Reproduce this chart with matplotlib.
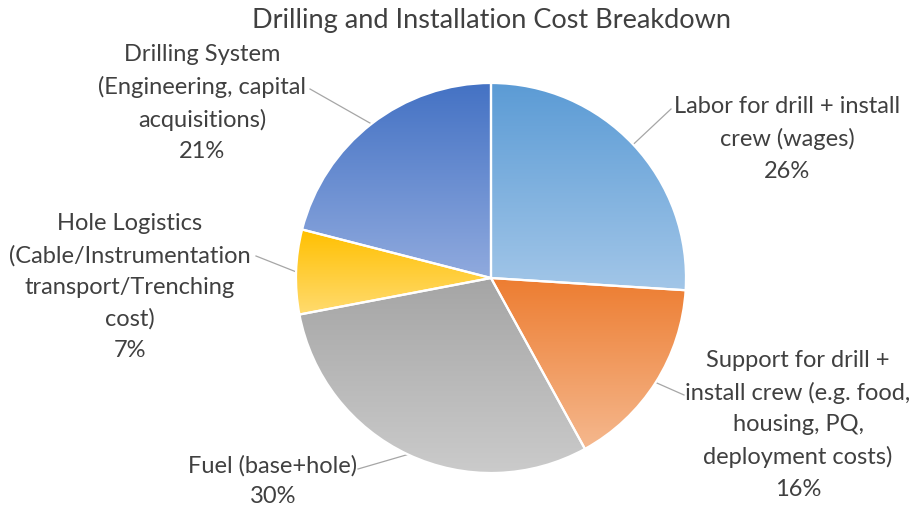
import matplotlib.pyplot as plt
import numpy as np
from matplotlib.colors import LinearSegmentedColormap

# cost shares, clockwise from 12 o'clock
labels = ['Labor for drill + install\ncrew (wages)',
          'Support for drill +\ninstall crew (e.g. food,\nhousing, PQ,\ndeployment costs)',
          'Fuel (base+hole)',
          'Hole Logistics\n(Cable/Instrumentation\ntransport/Trenching\ncost)',
          'Drilling System\n(Engineering, capital\nacquisitions)']
shares = [26, 16, 30, 7, 21]

# gradient top -> bottom for each slice
top_colors = ['#5B9BD5', '#ED7D31', '#A5A5A5', '#FFC000', '#4472C4']
bottom_colors = ['#A2C6E8', '#F5B88E', '#CBCBCB', '#FFDB70', '#90AADE']

# label block centre (px) and leader end point (px)
label_pos = [(787, 139), (798, 425), (273, 481), (130, 287), (202, 103)]
leader_end = [(671, 110), (684, 396), (358, 470), (256, 257), (310, 90)]

W, H = 914, 510
cx, cy, R = 491, 279, 195


def to_data(px, py):
    return (px - cx) / R, (cy - py) / R


plt.rcParams['font.family'] = ['Lato', 'DejaVu Sans']
fig = plt.figure(figsize=(W / 100, H / 100), dpi=100)
ax = fig.add_axes([0, 0, 1, 1])

wedges, _ = ax.pie(shares, startangle=90, counterclock=False, radius=1,
                   wedgeprops=dict(facecolor='none', edgecolor='white', linewidth=1.6))

for w, c0, c1 in zip(wedges, top_colors, bottom_colors):
    verts = w.get_path().vertices
    x0, y0 = verts.min(axis=0)
    x1, y1 = verts.max(axis=0)
    cmap = LinearSegmentedColormap.from_list('g', [c0, c1])
    grad = np.linspace(0, 1, 256).reshape(-1, 1)
    im = ax.imshow(grad, cmap=cmap, extent=[x0, x1, y0, y1], origin='upper',
                   aspect='auto', zorder=1, interpolation='bilinear')
    im.set_clip_path(w)
    w.set_zorder(2)

# labels with leader lines from the slice mid-angle on the rim
angle = 90.0
for lab, share, pos, end in zip(labels, shares, label_pos, leader_end):
    mid = np.deg2rad(angle - share * 3.6 / 2)
    angle -= share * 3.6
    sx, sy = np.cos(mid), np.sin(mid)
    ex, ey = to_data(*end)
    ax.plot([sx, ex], [sy, ey], color='#A6A6A6', lw=0.9, zorder=0)
    tx, ty = to_data(*pos)
    ax.text(tx, ty, f'{lab}\n{share}%', ha='center', va='center',
            fontsize=17, color='#404040', linespacing=1.6)

ax.text(0, to_data(0, 20)[1], 'Drilling and Installation Cost Breakdown',
        ha='center', va='center', fontsize=19.5, color='#404040')

ax.set_aspect('auto')
ax.set_xlim(-cx / R, (W - cx) / R)
ax.set_ylim(-(H - cy) / R, cy / R)
ax.axis('off')

fig.savefig('out.png', dpi=100)
